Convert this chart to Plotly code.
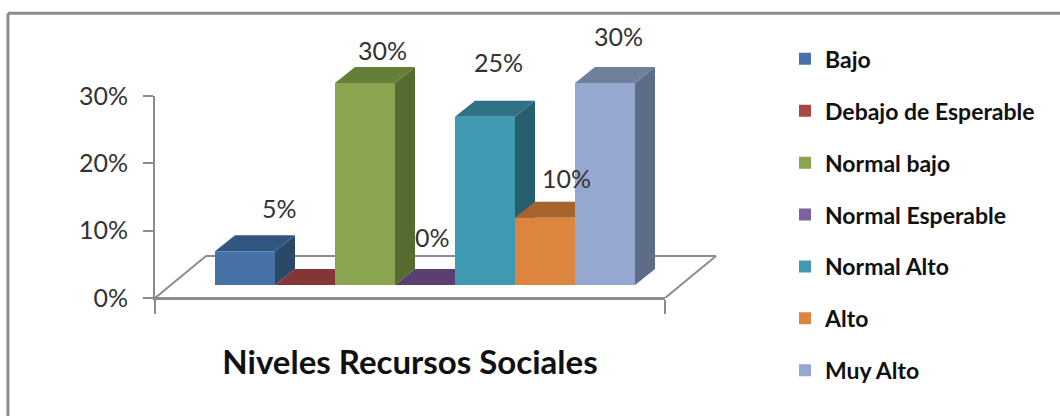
import plotly.graph_objects as go

# Survey results: share of respondents per social-resources level (%)
categories = ["Bajo", "Debajo de Esperable", "Normal bajo", "Normal Esperable",
              "Normal Alto", "Alto", "Muy Alto"]
values = [5, 0, 30, 0, 25, 10, 30]
y_ticks = [0, 10, 20, 30]
y_tick_labels = ["0%", "10%", "20%", "30%"]
chart_title = "Niveles Recursos Sociales"

# Face colours of each column
front_colors = ["#4672A8", "#AA4643", "#8AA54F", "#7E62A0", "#3F99B1", "#DC853E", "#95A9D0"]
top_colors = ["#315781", "#843535", "#667F38", "#5A4070", "#2F7285", "#A8642D", "#6F7F9C"]
side_colors = ["#2A4868", "#6E2C2C", "#566B2E", "#4A345C", "#285F6F", "#8C5325", "#5D6C87"]

# Pseudo-3D projection, in axis units (1 category = 60 px, 1 % = 6.73 px)
DEPTH_X, DEPTH_Y = 1 / 3, 2.38
FLOOR_X, FLOOR_Y = 0.85, 6.25
BAR_BASE = 1.93

# The visible axes cover only part of the plot area; faces drawn beyond them
# use hidden axes with the same scale over the whole area
AXIS_X_RANGE = [-1.5, 7]
AXIS_Y_RANGE = [0, 30]
X_DOMAIN_END = 510 / 590
Y_DOMAIN_END = 202 / 278
FULL_X_RANGE = [-1.5, -1.5 + 8.5 / X_DOMAIN_END]
FULL_Y_RANGE = [0, 30 / Y_DOMAIN_END]

# Hand-placed value label offsets from the column's top centre (px);
# the second column carries no label
label_dx = [34, None, 17, 7, 13, 21, 13]
label_dy = [43, None, 33, 48, 55, 40, 47]

GRAY = "#8C8C8C"
FONT = "Lato"
TEXT = "#333333"

fig = go.Figure()


def add_face(xs, ys, **style):
    fig.add_trace(go.Scatter(
        x=xs, y=ys, mode="lines", showlegend=False, hoverinfo="skip",
        xaxis="x2", yaxis="y2", **style))


# Front edge of the floor, which also brings up the visible axes
x0, x1 = AXIS_X_RANGE
fig.add_trace(go.Scatter(x=[x0, x1], y=[0, 0], mode="lines", line=dict(color=GRAY, width=2),
                         showlegend=False, hoverinfo="skip"))

# Rest of the floor
add_face([x0, x1, x1 + FLOOR_X, x0 + FLOOR_X, x0], [0, 0, FLOOR_Y, FLOOR_Y, 0],
         line=dict(color=GRAY, width=2))

# Top and side faces, painted left to right
for i, v in enumerate(values):
    l, r = i - 0.5, i + 0.5
    b, t = BAR_BASE, BAR_BASE + v
    if v > 0:
        add_face([r, r + DEPTH_X, r + DEPTH_X, r, r],
                 [t, t + DEPTH_Y, b + DEPTH_Y, b, t],
                 line=dict(width=0), fill="toself", fillcolor=side_colors[i])
    add_face([l, r, r + DEPTH_X, l + DEPTH_X, l],
             [t, t, t + DEPTH_Y, t + DEPTH_Y, t],
             line=dict(width=0), fill="toself", fillcolor=top_colors[i])

# Front faces live on the last subplot of the stack, so they cover the faces behind them
for i, (name, v) in enumerate(zip(categories, values)):
    fig.add_trace(go.Bar(
        x=[i], y=[v], base=BAR_BASE, width=1, name=name, legendgroup=name,
        marker=dict(color=front_colors[i], line=dict(width=0)),
        xaxis="x3", yaxis="y3"))

for i, v in enumerate(values):
    if label_dx[i] is None:
        continue
    fig.add_annotation(
        x=i, y=BAR_BASE + v, xref="x3", yref="y3", text=f"{v}%", showarrow=False,
        xshift=label_dx[i], yshift=label_dy[i],
        font=dict(family=FONT, size=25, color=TEXT))

hidden_x = dict(range=FULL_X_RANGE, domain=[0, 1], visible=False)
hidden_y = dict(range=FULL_Y_RANGE, domain=[0, 1], visible=False)

fig.update_layout(
    width=1060, height=416,
    margin=dict(l=155, r=315, t=20, b=118, autoexpand=False),
    paper_bgcolor="white", plot_bgcolor="rgba(0,0,0,0)",
    barmode="overlay",
    font=dict(family=FONT),
    legend=dict(
        x=1.0678, y=0.9374, xanchor="left", yanchor="top", tracegroupgap=19,
        traceorder="grouped", bgcolor="rgba(0,0,0,0)", maxheight=390,
        font=dict(family=FONT, size=23, color="#111111", weight=700)),
    xaxis=dict(
        range=AXIS_X_RANGE, domain=[0, X_DOMAIN_END], showgrid=False, zeroline=False,
        showline=True, linecolor=GRAY, linewidth=2, tickvals=AXIS_X_RANGE, ticktext=["", ""],
        ticks="outside", ticklen=14, tickcolor=GRAY, tickwidth=2,
        title=dict(text=chart_title, standoff=35,
                   font=dict(family=FONT, size=33, color="#111111", weight=700))),
    yaxis=dict(
        range=AXIS_Y_RANGE, domain=[0, Y_DOMAIN_END], tickvals=y_ticks, ticktext=y_tick_labels,
        showgrid=False, zeroline=False, showline=True, linecolor=GRAY, linewidth=2,
        ticks="outside", ticklen=10, tickcolor=GRAY, tickwidth=2, ticklabelstandoff=10,
        tickfont=dict(family=FONT, size=25, color=TEXT)),
    xaxis2=dict(anchor="y2", **hidden_x),
    yaxis2=dict(anchor="x2", **hidden_y),
    xaxis3=dict(anchor="y3", **hidden_x),
    yaxis3=dict(anchor="x3", **hidden_y),
    shapes=[dict(type="line", xref="paper", yref="paper", x0=-0.2492, x1=1.54, y0=1.0241, y1=1.0241,
                 line=dict(color=GRAY, width=3)),
            dict(type="line", xref="paper", yref="paper", x0=-0.2492, x1=-0.2492, y0=1.0241, y1=-0.45,
                 line=dict(color=GRAY, width=3))],
)

fig.write_html("out.html")
